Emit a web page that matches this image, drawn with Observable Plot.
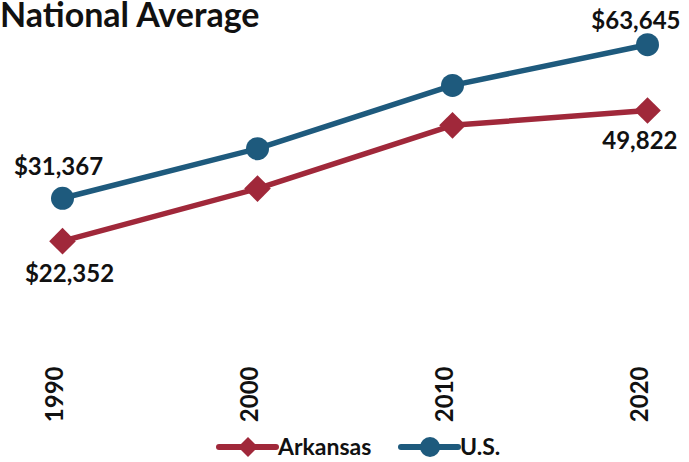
<!DOCTYPE html>
<html>
<head>
<meta charset="utf-8">
<script src="https://cdn.jsdelivr.net/npm/d3@7"></script>
<script src="https://cdn.jsdelivr.net/npm/@observablehq/plot@0.6"></script>
<style>
  html, body { margin: 0; padding: 0; background: #fff; }
  body { width: 689px; height: 462px; position: relative; overflow: hidden; font-family: Lato, "Open Sans", sans-serif; font-weight: 700; }
  #title { position: absolute; left: 0px; top: -3px; font-size: 34px; line-height: 34px; color: #111; white-space: nowrap; z-index: 2; }
  #chart { position: absolute; left: 0; top: 0; }
  #legend { position: absolute; left: 0; top: 430px; width: 689px; height: 32px; }
</style>
</head>
<body>
<div id="title">National Average</div>
<div id="chart"></div>
<div id="legend"></div>
<script>
const years = [1990, 2000, 2010, 2020];
const arkansas = [22352, 33400, 46700, 49822];
const us = [31367, 41800, 55100, 63645];
const seriesNames = ["Arkansas", "U.S."];
const arkLabels = ["$22,352", "", "", "49,822"];
const usLabels = ["$31,367", "", "", "$63,645"];

const red = "#a0283a";
const blue = "#1e5a7d";

const arkRows = years.map((y, i) => ({year: y, value: arkansas[i], label: arkLabels[i]}));
const usRows = years.map((y, i) => ({year: y, value: us[i], label: usLabels[i]}));

const labelFont = 24;

const chart = Plot.plot({
  width: 689,
  height: 430,
  marginLeft: 61,
  marginRight: 41,
  marginTop: 14,
  marginBottom: 83,
  x: {type: "point", domain: years, padding: 0, axis: null},
  y: {domain: [0, 70000], axis: null},
  style: {fontFamily: "Lato, 'Open Sans', sans-serif", fontWeight: "bold", background: "transparent", overflow: "visible"},
  marks: [
    Plot.line(arkRows, {x: "year", y: "value", stroke: red, strokeWidth: 5.5}),
    Plot.line(usRows, {x: "year", y: "value", stroke: blue, strokeWidth: 5.5}),
    Plot.dot(arkRows, {x: "year", y: "value", symbol: "diamond2", r: 12, fill: red, stroke: "none"}),
    Plot.dot(usRows, {x: "year", y: "value", r: 11.5, fill: blue, stroke: "none"}),
    Plot.text(usRows.filter(d => d.year === 1990), {x: "year", y: "value", text: "label", dx: -4, dy: -31, fontSize: labelFont, fill: "#111"}),
    Plot.text(arkRows.filter(d => d.year === 1990), {x: "year", y: "value", text: "label", dx: 7, dy: 33, fontSize: labelFont, fill: "#111"}),
    Plot.text(usRows.filter(d => d.year === 2020), {x: "year", y: "value", text: "label", textAnchor: "end", dx: 33, dy: -23, fontSize: labelFont, fill: "#111"}),
    Plot.text(arkRows.filter(d => d.year === 2020), {x: "year", y: "value", text: "label", textAnchor: "end", dx: 30, dy: 31, fontSize: labelFont, fill: "#111"}),
    Plot.text(years, {x: d => d, frameAnchor: "bottom", text: d => String(d), rotate: -90, textAnchor: "end", dy: 19, fontSize: 24, fill: "#111"})
  ]
});
document.getElementById("chart").appendChild(chart);

// Legend
const leg = d3.select("#legend").append("svg").attr("width", 689).attr("height", 32)
  .style("font-family", "Lato, 'Open Sans', sans-serif").style("font-weight", "bold");
const items = [
  {name: seriesNames[0], color: red, x0: 219, x1: 276, cx: 248, tx: 278, sym: "diamond"},
  {name: seriesNames[1], color: blue, x0: 401, x1: 458, cx: 430, tx: 460, sym: "circle"}
];
const cy = 17;
items.forEach(it => {
  leg.append("line").attr("x1", it.x0).attr("x2", it.x1).attr("y1", cy).attr("y2", cy)
    .attr("stroke", it.color).attr("stroke-width", 6).attr("stroke-linecap", "round");
  if (it.sym === "diamond") {
    leg.append("path").attr("d", `M${it.cx},${cy-10}L${it.cx+10},${cy}L${it.cx},${cy+10}L${it.cx-10},${cy}Z`).attr("fill", it.color);
  } else {
    leg.append("circle").attr("cx", it.cx).attr("cy", cy).attr("r", 10).attr("fill", it.color);
  }
  leg.append("text").attr("x", it.tx).attr("y", cy).attr("dy", "0.35em").attr("font-size", 23).attr("fill", "#111").text(it.name);
});
</script>
</body>
</html>
